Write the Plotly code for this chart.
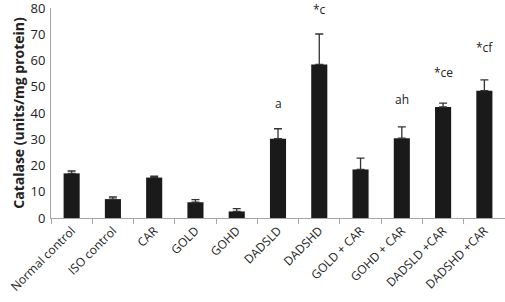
import plotly.graph_objects as go

categories = ["Normal control", "ISO control", "CAR", "GOLD", "GOHD", "DADSLD",
              "DADSHD", "GOLD + CAR", "GOHD + CAR", "DADSLD +CAR", "DADSHD +CAR"]
values = [17.0, 7.2, 15.4, 6.0, 2.5, 30.2, 58.5, 18.5, 30.4, 42.3, 48.5]
errors = [0.9, 0.8, 0.5, 1.0, 1.1, 3.8, 11.6, 4.3, 4.3, 1.5, 4.1]
labels = ["", "", "", "", "", "a", "*c", "", "ah", "*ce", "*cf"]
label_y = [None, None, None, None, None, 43.5, 81.5, None, 45.0, 55.3, 64.8]
y_ticks = [0, 10, 20, 30, 40, 50, 60, 70, 80]
y_max = 80

fig = go.Figure()
fig.add_trace(go.Bar(
    x=categories, y=values, width=0.39,
    marker=dict(color="#1a1a1a", line=dict(width=0)),
    error_y=dict(type="data", array=errors, arrayminus=[0]*len(errors),
                 symmetric=False, color="#333333", thickness=1.3, width=4),
))
for c, t, yy in zip(categories, labels, label_y):
    if t:
        if yy > y_max:
            fig.add_annotation(x=c, y=y_max, text=t, showarrow=False, xref="x", yref="y",
                               yanchor="top", yshift=9,
                               font=dict(family="Open Sans", size=12, color="#222222"))
        else:
            fig.add_annotation(x=c, y=yy, text=t, showarrow=False, xref="x", yref="y",
                               font=dict(family="Open Sans", size=12, color="#222222"))

fig.update_layout(
    width=505, height=302,
    margin=dict(l=51, r=0, t=8, b=84),
    paper_bgcolor="white", plot_bgcolor="white",
    showlegend=False,
    font=dict(family="Open Sans", color="#222222"),
)
fig.update_yaxes(range=[0, y_max], tickmode="array", tickvals=y_ticks,
                 showgrid=False, showline=True,
                 linecolor="#a6a6a6", linewidth=1, ticks="", zeroline=False,
                 automargin=False, ticklabelstandoff=2, ticklabeloverflow="allow",
                 tickfont=dict(size=13, color="#222222"),
                 title=dict(text="<b>Catalase (units/mg protein)</b>",
                            font=dict(size=14, color="#222222"), standoff=2))
fig.update_xaxes(showgrid=False, showline=True, linecolor="#a6a6a6", linewidth=1,
                 ticks="outside", tickson="boundaries", ticklen=5, tickcolor="#a6a6a6",
                 automargin=False,
                 tickangle=-45, tickfont=dict(size=12, color="#222222"))

fig.write_html("out.html", config={"displayModeBar": False},
               post_script="document.body.style.margin='0';")
